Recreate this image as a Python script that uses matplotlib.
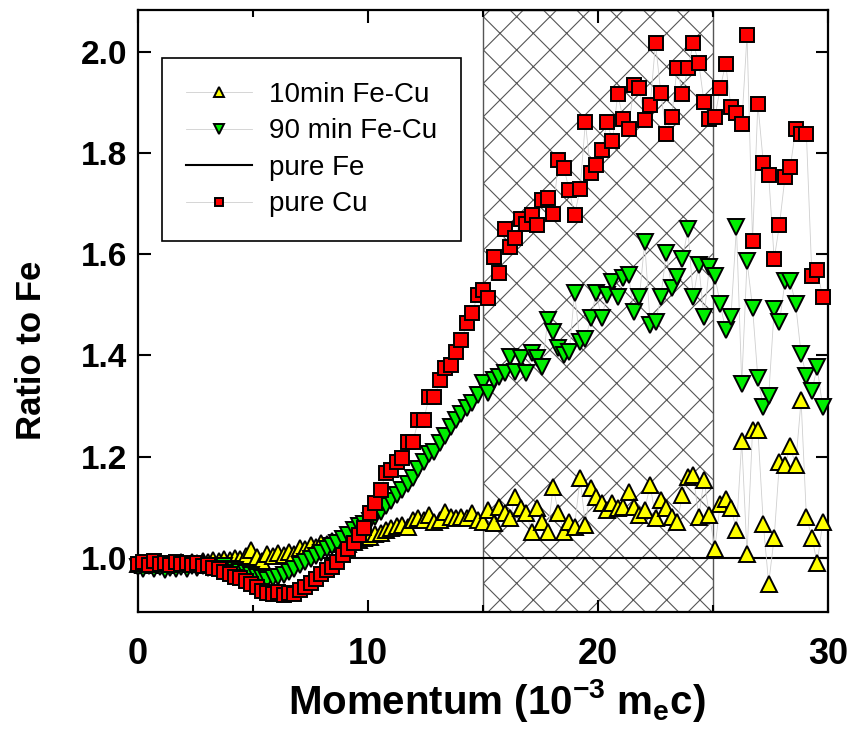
import matplotlib
matplotlib.use('Agg')
import matplotlib.pyplot as plt
from matplotlib.ticker import MultipleLocator

plt.rcParams['font.family'] = ['Liberation Sans', 'DejaVu Sans']
plt.rcParams['mathtext.fontset'] = 'custom'
plt.rcParams['mathtext.rm'] = 'Liberation Sans'
plt.rcParams['mathtext.bf'] = 'Liberation Sans:bold'
plt.rcParams['mathtext.default'] = 'bf'
plt.rcParams['hatch.linewidth'] = 0.8

# momentum bins (10^-3 m_e c)
momentum = [
    0.00, 0.23, 0.47, 0.70, 0.94, 1.17, 1.41, 1.64, 1.88, 2.11,
    2.34, 2.58, 2.81, 3.05, 3.28, 3.52, 3.75, 3.98, 4.22, 4.45,
    4.69, 4.92, 5.16, 5.39, 5.63, 5.86, 6.09, 6.33, 6.56, 6.80,
    7.03, 7.27, 7.50, 7.73, 7.97, 8.20, 8.44, 8.67, 8.91, 9.14,
    9.38, 9.61, 9.84, 10.08, 10.31, 10.55, 10.78, 11.02, 11.25, 11.48,
    11.72, 11.95, 12.19, 12.42, 12.66, 12.89, 13.13, 13.36, 13.59, 13.83,
    14.06, 14.30, 14.53, 14.77, 15.00, 15.23, 15.47, 15.70, 15.94, 16.17,
    16.41, 16.64, 16.88, 17.11, 17.34, 17.58, 17.81, 18.05, 18.28, 18.52,
    18.75, 18.98, 19.22, 19.45, 19.69, 19.92, 20.16, 20.39, 20.63, 20.86,
    21.09, 21.33, 21.56, 21.80, 22.03, 22.27, 22.50, 22.73, 22.97, 23.20,
    23.44, 23.67, 23.91, 24.14, 24.38, 24.61, 24.84, 25.08, 25.31, 25.55,
    25.78, 26.02, 26.25, 26.48, 26.72, 26.95, 27.19, 27.42, 27.66, 27.89,
    28.13, 28.36, 28.59, 28.83, 29.06, 29.30, 29.53, 29.77,
]

ratio_10min = [
    0.988, 0.985, 0.990, 0.986, 0.989, 0.986, 0.990, 0.987, 0.991, 0.988,
    0.992, 0.990, 0.994, 0.991, 0.996, 0.993, 0.998, 0.995, 1.000, 0.997,
    1.003, 1.016, 1.002, 0.993, 1.008, 1.004, 1.010, 1.005, 1.012, 1.008,
    1.020, 1.018, 1.025, 1.022, 1.030, 1.027, 1.034, 1.030, 1.033, 1.028,
    1.032, 1.036, 1.040, 1.041, 1.047, 1.050, 1.055, 1.059, 1.063, 1.065,
    1.061, 1.075, 1.079, 1.075, 1.085, 1.071, 1.075, 1.091, 1.081, 1.079,
    1.081, 1.079, 1.089, 1.075, 1.071, 1.095, 1.069, 1.100, 1.089, 1.079,
    1.120, 1.099, 1.089, 1.051, 1.099, 1.071, 1.051, 1.140, 1.089, 1.051,
    1.071, 1.061, 1.158, 1.065, 1.138, 1.120, 1.108, 1.095, 1.108, 1.099,
    1.100, 1.130, 1.100, 1.085, 1.095, 1.144, 1.079, 1.114, 1.099, 1.081,
    1.071, 1.124, 1.160, 1.164, 1.081, 1.154, 1.085, 1.018, 1.106, 1.117,
    1.099, 1.055, 1.231, 1.007, 1.253, 1.253, 1.066, 0.949, 1.040, 1.190,
    1.183, 1.220, 1.183, 1.311, 1.081, 1.040, 0.989, 1.070,
]

ratio_90min = [
    0.982, 0.978, 0.983, 0.977, 0.981, 0.976, 0.980, 0.977, 0.982, 0.978,
    0.983, 0.979, 0.984, 0.980, 0.984, 0.980, 0.983, 0.978, 0.976, 0.972,
    0.970, 0.966, 0.962, 0.960, 0.957, 0.960, 0.962, 0.966, 0.972, 0.978,
    0.985, 0.992, 0.998, 1.004, 1.010, 1.017, 1.024, 1.030, 1.038, 1.046,
    1.055, 1.062, 1.066, 1.072, 1.080, 1.090, 1.102, 1.112, 1.124, 1.133,
    1.145, 1.158, 1.175, 1.190, 1.205, 1.210, 1.227, 1.240, 1.258, 1.272,
    1.285, 1.296, 1.306, 1.321, 1.345, 1.325, 1.351, 1.357, 1.365, 1.396,
    1.367, 1.394, 1.365, 1.404, 1.394, 1.377, 1.469, 1.446, 1.414, 1.400,
    1.406, 1.523, 1.426, 1.432, 1.473, 1.523, 1.473, 1.519, 1.544, 1.515,
    1.552, 1.558, 1.485, 1.515, 1.623, 1.460, 1.465, 1.515, 1.603, 1.533,
    1.554, 1.590, 1.649, 1.515, 1.578, 1.475, 1.575, 1.557, 1.502, 1.450,
    1.476, 1.653, 1.344, 1.586, 1.494, 1.355, 1.297, 1.319, 1.491, 1.465,
    1.546, 1.546, 1.502, 1.403, 1.359, 1.330, 1.377, 1.297,
]

ratio_cu = [
    0.988, 0.992, 0.986, 0.994, 0.988, 0.990, 0.985, 0.992, 0.987, 0.990,
    0.986, 0.989, 0.983, 0.985, 0.980, 0.977, 0.972, 0.968, 0.963, 0.960,
    0.955, 0.948, 0.942, 0.935, 0.930, 0.928, 0.932, 0.927, 0.931, 0.929,
    0.936, 0.942, 0.950, 0.958, 0.968, 0.975, 0.982, 0.992, 1.005, 1.018,
    1.030, 1.045, 1.058, 1.089, 1.108, 1.134, 1.168, 1.174, 1.190, 1.197,
    1.229, 1.229, 1.272, 1.272, 1.318, 1.318, 1.351, 1.375, 1.380, 1.406,
    1.430, 1.463, 1.483, 1.520, 1.528, 1.513, 1.594, 1.562, 1.650, 1.613,
    1.632, 1.670, 1.660, 1.677, 1.657, 1.706, 1.710, 1.680, 1.785, 1.770,
    1.726, 1.677, 1.728, 1.860, 1.760, 1.775, 1.805, 1.860, 1.824, 1.917,
    1.866, 1.846, 1.933, 1.927, 1.864, 1.895, 2.016, 1.919, 1.838, 1.870,
    1.968, 1.917, 1.968, 2.016, 1.978, 1.900, 1.866, 1.870, 1.927, 1.976,
    1.890, 1.878, 1.856, 2.033, 1.625, 1.897, 1.779, 1.757, 1.590, 1.658,
    1.752, 1.771, 1.846, 1.838, 1.838, 1.556, 1.568, 1.515,
]

fe_x = [0, 30]
fe_ratio = [1.0, 1.0]
shade_lo, shade_hi = 15, 25

labels = ['10min Fe-Cu', '90 min Fe-Cu', 'pure Fe', 'pure Cu']

fig = plt.figure(figsize=(8.48, 7.34), dpi=100)
ax = fig.add_axes([138 / 848, 1 - 612 / 734, 690 / 848, 602 / 734])

# hatched window
ax.axvspan(shade_lo, shade_hi, facecolor='white', edgecolor='#555555',
           hatch='x', linewidth=1.0, zorder=1)

line_kw = dict(color='#cfcfcf', lw=0.6, mec='black', mew=1.4, zorder=3, clip_on=False)
ax.plot(momentum, ratio_10min, marker='^', mfc='#ffff00', ms=11, label=labels[0], **line_kw)
ax.plot(momentum, ratio_90min, marker='v', mfc='#00ee00', ms=11, label=labels[1], **line_kw)
ax.plot(fe_x, fe_ratio, color='black', lw=1.5, zorder=2, label=labels[2])
ax.plot(momentum, ratio_cu, marker='s', mfc='#ff0000', ms=9.5, label=labels[3], **line_kw)

ax.set_xlim(0, 30)
ax.set_ylim(0.893, 2.082)
ax.xaxis.set_major_locator(MultipleLocator(10))
ax.xaxis.set_minor_locator(MultipleLocator(5))
ax.yaxis.set_major_locator(MultipleLocator(0.2))
ax.yaxis.set_major_formatter(plt.FormatStrFormatter('%.1f'))

ax.tick_params(which='both', direction='in', top=True, right=True, width=1.5)
ax.tick_params(which='major', length=9)
ax.tick_params(which='minor', length=5)
ax.tick_params(axis='x', pad=18)
ax.tick_params(axis='y', pad=8)
for lab in ax.get_xticklabels():
    lab.set_fontsize(26)
    lab.set_fontweight('bold')
for lab in ax.get_yticklabels():
    lab.set_fontsize(24)
    lab.set_fontweight('bold')
for sp in ax.spines.values():
    sp.set_linewidth(1.6)

ax.set_xlabel(r'Momentum (10$^{-3}$ m$_{e}$c)', fontsize=29, fontweight='bold')
ax.set_ylabel('Ratio to Fe', fontsize=25, fontweight='bold')
ax.xaxis.set_label_coords(0.52, -0.108)
ax.yaxis.set_label_coords(-0.13, 0.435)

leg = ax.legend(loc='upper left', bbox_to_anchor=(0.035, 0.92), fontsize=20,
                frameon=True, fancybox=False, framealpha=1, edgecolor='black',
                handlelength=2.4, handletextpad=0.6, labelspacing=0.38,
                borderpad=0.85, borderaxespad=0, markerscale=0.6)
leg.get_frame().set_linewidth(1.2)
leg.set_zorder(5)

fig.savefig('out.png', dpi=100)
